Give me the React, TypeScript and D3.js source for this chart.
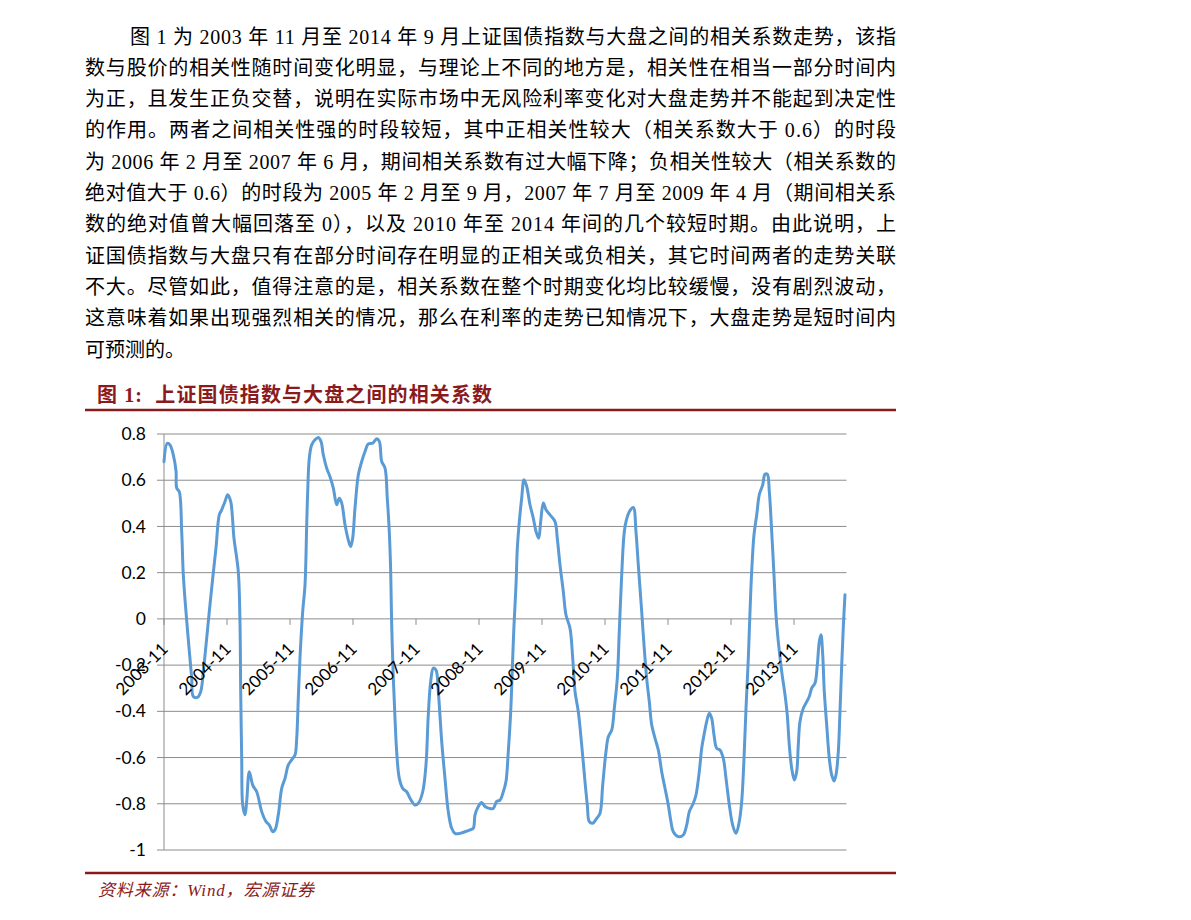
import React, { useEffect, useRef } from 'react';
import * as d3 from 'd3';

// text of the page
const paragraphLines = [
  '图 1 为 2003 年 11 月至 2014 年 9 月上证国债指数与大盘之间的相关系数走势，该指',
  '数与股价的相关性随时间变化明显，与理论上不同的地方是，相关性在相当一部分时间内',
  '为正，且发生正负交替，说明在实际市场中无风险利率变化对大盘走势并不能起到决定性',
  '的作用。两者之间相关性强的时段较短，其中正相关性较大（相关系数大于 0.6）的时段',
  '为 2006 年 2 月至 2007 年 6 月，期间相关系数有过大幅下降；负相关性较大（相关系数的',
  '绝对值大于 0.6）的时段为 2005 年 2 月至 9 月，2007 年 7 月至 2009 年 4 月（期间相关系',
  '数的绝对值曾大幅回落至 0），以及 2010 年至 2014 年间的几个较短时期。由此说明，上',
  '证国债指数与大盘只有在部分时间存在明显的正相关或负相关，其它时间两者的走势关联',
  '不大。尽管如此，值得注意的是，相关系数在整个时期变化均比较缓慢，没有剧烈波动，',
  '这意味着如果出现强烈相关的情况，那么在利率的走势已知情况下，大盘走势是短时间内',
  '可预测的。',
];
const chartTitle = '图 1:  上证国债指数与大盘之间的相关系数';
const sourceNote = '资料来源：Wind，宏源证券';

// axes
const yTicks = [0.8, 0.6, 0.4, 0.2, 0, -0.2, -0.4, -0.6, -0.8, -1];
const yTickLabels = ['0.8', '0.6', '0.4', '0.2', '0', '-0.2', '-0.4', '-0.6', '-0.8', '-1'];
const xTickMonths = [0, 12, 24, 36, 48, 60, 72, 84, 96, 108, 120];
const xTickLabels = ['2003-11', '2004-11', '2005-11', '2006-11', '2007-11', '2008-11',
  '2009-11', '2010-11', '2011-11', '2012-11', '2013-11'];

// series: months since 2003-11 and correlation coefficient
const monthIdx = [
  0, 0.63, 1.14, 1.77, 2.29, 2.42, 2.91, 3.37, 3.68, 4.19, 4.82, 5.28, 5.58, 6.34, 6.99, 7.49,
  8.13, 8.63, 9.28, 9.9, 10.53, 10.99, 11.62, 12.13, 12.7, 13.33, 14.15, 14.48, 14.61, 14.8,
  14.99, 15.43, 15.75, 16.25, 16.9, 17.66, 18.61, 19.43, 20.06, 20.7, 21.14, 21.77, 22.42,
  23.05, 23.68, 24.32, 24.95, 25.28, 25.58, 25.9, 26.42, 26.86, 27.18, 27.37, 27.68, 28.13,
  28.76, 29.39, 29.9, 30.34, 30.99, 31.62,
  32.25, 32.9, 33.39, 33.85, 34.48, 35.1, 35.56, 35.94, 36.38, 37.01, 37.66, 38.29, 38.91,
  39.75, 40.51, 41.01, 41.47, 42.1, 42.53, 42.91, 43.18, 43.37, 43.68, 44, 44.32, 44.82,
  45.47, 46.23, 46.86, 47.81, 48.44, 49.28, 49.9, 50.34, 50.8, 51.3, 51.81, 52.25, 52.9,
  53.52, 54.15, 54.8, 55.43, 56.38, 57.33, 58.29, 58.91, 59.24, 59.87, 60.51, 61.14, 61.97,
  62.72, 63.37, 64,
  64.63, 65.14, 65.58, 66.04, 66.42, 66.67, 67.05, 67.3, 67.68, 68.13, 68.57, 69.09, 69.71,
  70.34, 70.86, 71.37, 71.75, 72.25, 72.76, 73.52, 74.48, 74.91, 75.43, 76.06, 76.57, 77.33,
  77.85, 78.29, 78.91, 79.56, 80.19, 80.63, 81.01, 81.66, 82.42, 83.05, 83.56, 84.19, 84.63,
  85.28, 85.77, 86.34, 86.72, 87.18, 87.62, 88, 88.63, 89.39, 89.9, 90.34, 90.99, 91.43,
  91.94, 92.44, 92.9, 93.52, 94.15, 94.8, 95.43, 96.06, 96.51,
  97.01, 97.96, 98.91, 99.56, 100.06, 100.82, 101.33, 101.96, 102.42, 102.86, 103.37,
  103.87, 104.32, 104.76, 105.28, 105.9, 106.53, 107.05, 107.68, 108.32, 108.95, 109.58,
  110.04, 110.48, 110.86, 111.3, 111.62, 111.94, 112.38, 112.9, 113.39, 114.04, 114.48,
  114.91, 115.3, 115.75, 116.19, 116.57, 117.01, 117.66, 118.29, 118.72, 119.1, 119.56,
  120.06, 120.51, 120.82, 121.14, 121.77, 122.42, 122.91, 123.37, 124, 124.44, 124.82,
  125.14, 125.47, 125.77, 126.23, 126.72, 127.18, 127.62, 128, 128.44, 128.76, 129.09,
  129.41, 129.71,
];
const corr = [
  0.68, 0.76, 0.753, 0.71, 0.64, 0.566, 0.55, 0.378, 0.19, 0.03, -0.14, -0.257, -0.336, -0.34,
  -0.315, -0.228, -0.084, 0.032, 0.176, 0.306, 0.45, 0.472, 0.508, 0.537, 0.508, 0.349, 0.205,
  -0.026, -0.315, -0.603, -0.805, -0.848, -0.79, -0.661, -0.719, -0.748, -0.834, -0.877,
  -0.892, -0.921, -0.913, -0.848, -0.733, -0.69, -0.632, -0.61, -0.589, -0.516, -0.343, -0.17,
  0.032, 0.147, 0.407, 0.551, 0.696, 0.753, 0.775, 0.785, 0.768, 0.71, 0.652, 0.615,
  0.566, 0.494, 0.522, 0.501, 0.407, 0.342, 0.313, 0.349, 0.479, 0.623, 0.681, 0.724, 0.757,
  0.76, 0.779, 0.768, 0.681, 0.652, 0.522, 0.378, 0.205, -0.026, -0.257, -0.43, -0.574, -0.69,
  -0.733, -0.748, -0.776, -0.805, -0.798, -0.748, -0.632, -0.416, -0.271, -0.213, -0.221,
  -0.315, -0.531, -0.69, -0.834, -0.906, -0.928, -0.928, -0.921, -0.913, -0.906, -0.848,
  -0.812, -0.795, -0.812, -0.82, -0.82, -0.79, -0.784,
  -0.748, -0.704, -0.574, -0.401, -0.17, -0.026, 0.147, 0.306, 0.421, 0.522, 0.602, 0.573,
  0.494, 0.436, 0.378, 0.349, 0.421, 0.501, 0.472, 0.45, 0.421, 0.349, 0.234, 0.118, 0.017,
  -0.04, -0.17, -0.315, -0.401, -0.545, -0.704, -0.805, -0.877, -0.884, -0.863, -0.841,
  -0.719, -0.574, -0.51, -0.481, -0.387, -0.257, -0.055, 0.19, 0.364, 0.421, 0.464, 0.482,
  0.378, 0.234, 0.032, -0.113, -0.257, -0.358, -0.459, -0.516, -0.567, -0.661, -0.733,
  -0.805, -0.87,
  -0.921, -0.942, -0.935, -0.892, -0.834, -0.798, -0.762, -0.661, -0.56, -0.502, -0.444,
  -0.408, -0.43, -0.502, -0.56, -0.567, -0.603, -0.69, -0.805, -0.892, -0.928, -0.877, -0.79,
  -0.603, -0.387, -0.17, 0.032, 0.205, 0.364, 0.45, 0.537, 0.58, 0.626, 0.626, 0.551, 0.378,
  0.19, 0.017, -0.098, -0.228, -0.329, -0.416, -0.545, -0.646, -0.697, -0.661, -0.545,
  -0.444, -0.387, -0.358, -0.336, -0.3, -0.278, -0.199, -0.098, -0.069, -0.156, -0.315,
  -0.459, -0.603, -0.675, -0.701, -0.675, -0.574, -0.401, -0.199, -0.026, 0.104,
];

const W = 1191;
const H = 920;
const RED = '#8a1a1c';
const BODY_FONT = '"Liberation Serif", "Noto Sans CJK SC", serif';
const AXIS_FONT = 'Lato, "Noto Sans", sans-serif';

const App: React.FC = () => {
  const svgRef = useRef<SVGSVGElement>(null);

  useEffect(() => {
    if (!svgRef.current) return;
    const svg = d3.select(svgRef.current);
    svg.selectAll('*').remove();

    svg.append('rect').attr('width', W).attr('height', H).attr('fill', '#fff');

    // paragraph
    const para = svg.append('g')
      .attr('font-family', BODY_FONT)
      .attr('font-size', 20)
      .attr('fill', '#000');
    paragraphLines.forEach((line, i) => {
      const x0 = i === 0 ? 130 : 85;
      const t = para.append('text')
        .attr('x', x0)
        .attr('y', 43.5 + i * 31.3)
        .text(line);
      if (i < paragraphLines.length - 1) {
        t.attr('textLength', 896 - x0).attr('lengthAdjust', 'spacing');
      }
    });

    // title + rules
    svg.append('text')
      .attr('x', 97)
      .attr('y', 402)
      .attr('font-family', BODY_FONT)
      .attr('font-size', 20)
      .attr('font-weight', 'bold')
      .attr('fill', RED)
      .style('white-space', 'pre')
      .attr('textLength', 395)
      .attr('lengthAdjust', 'spacing')
      .text(chartTitle);
    svg.append('line')
      .attr('x1', 85).attr('x2', 896).attr('y1', 410).attr('y2', 410)
      .attr('stroke', RED).attr('stroke-width', 2.5);
    svg.append('line')
      .attr('x1', 85).attr('x2', 896).attr('y1', 873).attr('y2', 873)
      .attr('stroke', RED).attr('stroke-width', 2.5);
    svg.append('text')
      .attr('x', 98)
      .attr('y', 896)
      .attr('font-family', BODY_FONT)
      .attr('font-size', 17)
      .attr('font-style', 'italic')
      .attr('fill', RED)
      .attr('textLength', 216)
      .attr('lengthAdjust', 'spacing')
      .text(sourceNote);

    // chart
    const x = d3.scaleLinear().domain([0, 130]).range([164, 846.5]);
    const y = d3.scaleLinear().domain([-1, 0.8]).range([850, 434]);
    const g = svg.append('g');
    const grid = '#8c8c8c';

    g.append('g').selectAll('line')
      .data(yTicks)
      .join('line')
      .attr('x1', 157)
      .attr('x2', x(130))
      .attr('y1', d => y(d))
      .attr('y2', d => y(d))
      .attr('stroke', grid)
      .attr('stroke-width', 1);

    g.append('line')
      .attr('x1', x(0)).attr('x2', x(0))
      .attr('y1', y(0.8)).attr('y2', y(-1))
      .attr('stroke', grid);

    g.append('g').selectAll('line')
      .data(xTickMonths)
      .join('line')
      .attr('x1', d => x(d))
      .attr('x2', d => x(d))
      .attr('y1', y(0))
      .attr('y2', y(0) + 6)
      .attr('stroke', grid);

    g.append('g')
      .attr('font-family', AXIS_FONT)
      .attr('font-size', 17.5)
      .attr('fill', '#000')
      .selectAll('text')
      .data(yTicks)
      .join('text')
      .attr('x', 146)
      .attr('y', d => y(d))
      .attr('dy', '0.35em')
      .attr('text-anchor', 'end')
      .text((_, i) => yTickLabels[i]);

    const pts = monthIdx.map((m, i) => [m, corr[i]] as [number, number]);
    const line = d3.line<[number, number]>()
      .x(d => x(d[0]))
      .y(d => y(d[1]))
      .curve(d3.curveCatmullRom.alpha(0.5));

    g.append('path')
      .datum(pts)
      .attr('d', line)
      .attr('fill', 'none')
      .attr('stroke', '#5b9bd5')
      .attr('stroke-width', 3)
      .attr('stroke-linejoin', 'round')
      .attr('stroke-linecap', 'round');

    g.append('g')
      .attr('font-family', AXIS_FONT)
      .attr('font-size', 17)
      .attr('fill', '#000')
      .selectAll('text')
      .data(xTickMonths)
      .join('text')
      .attr('text-anchor', 'end')
      .attr('transform', d => `translate(${x(d) + 5},${650}) rotate(-45)`)
      .text((_, i) => xTickLabels[i]);
  }, []);

  return (
    <div style={{ position: 'absolute', left: 0, top: 0 }}>
      <svg ref={svgRef} width={W} height={H}></svg>
    </div>
  );
};

export default App;
